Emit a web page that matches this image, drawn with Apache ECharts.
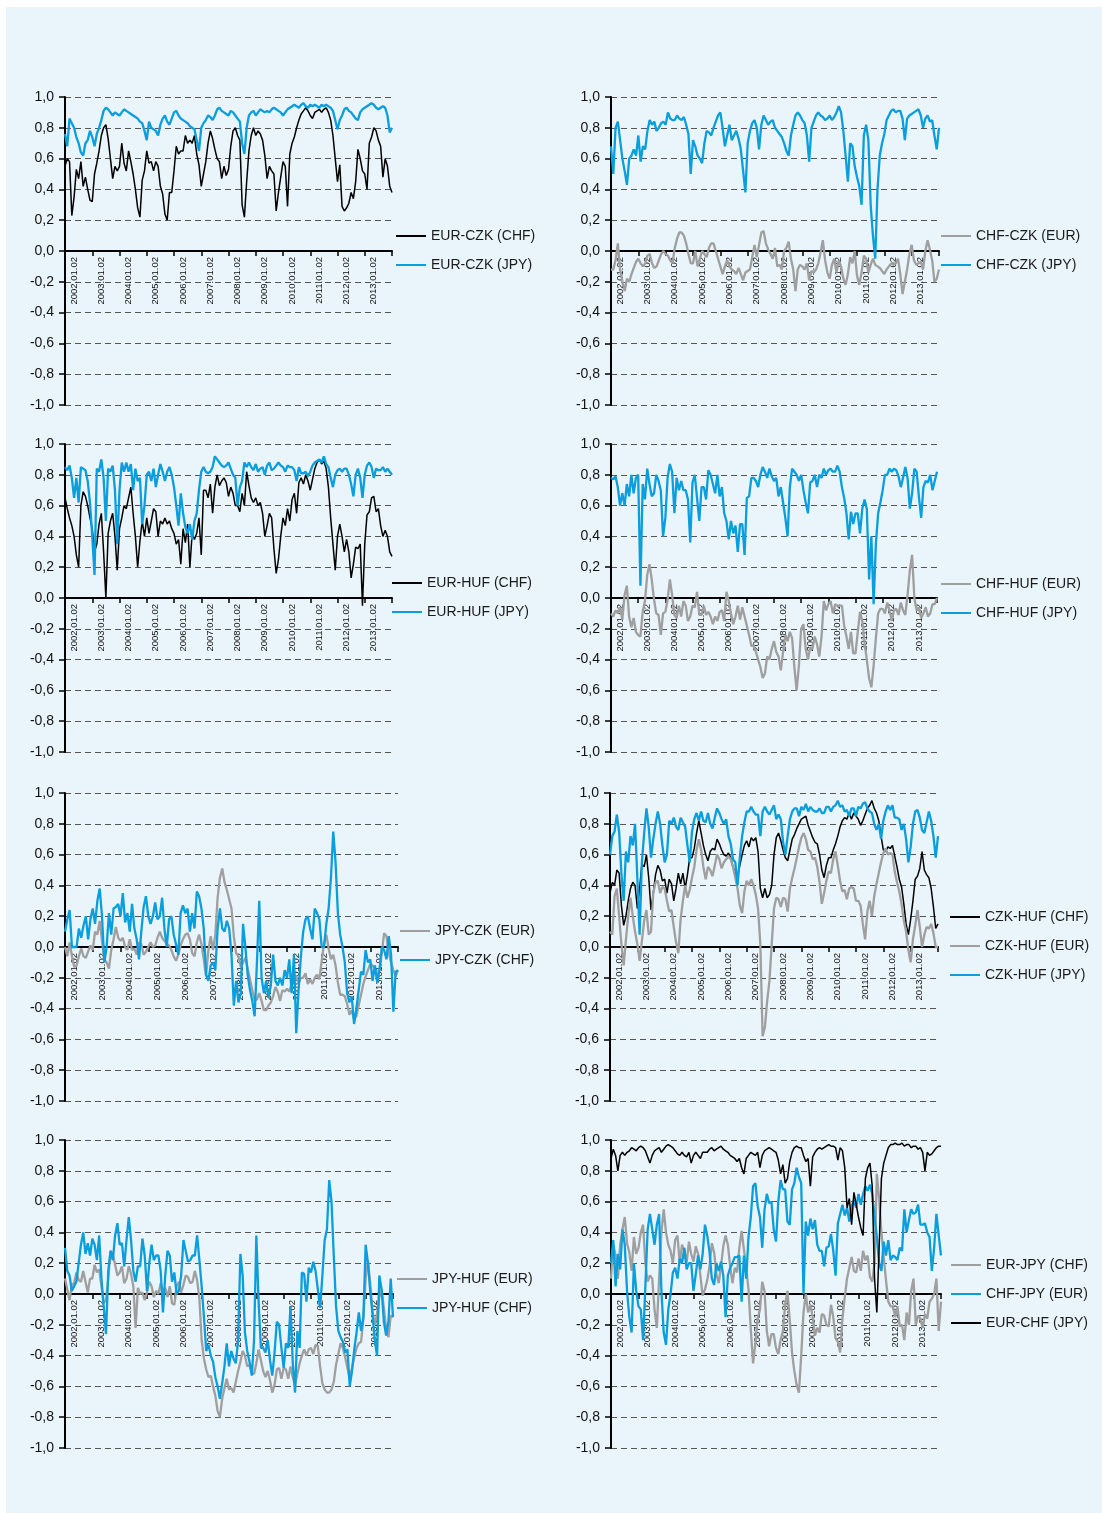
<!DOCTYPE html>
<html>
<head>
<meta charset="utf-8">
<script src="https://cdn.jsdelivr.net/npm/echarts@6/dist/echarts.min.js"></script>
<style>
  html, body { margin: 0; padding: 0; background: #ffffff; }
  #chart { position: absolute; left: 6px; top: 7px; width: 1096px; height: 1506px; }
</style>
</head>
<body>
<div id="chart"></div>
<script>
// Monthly observation dates, September 2001 to September 2013
const months = [];
for (let y = 2001, m = 9; y < 2013 || (y === 2013 && m <= 9); ) {
  months.push(y + '-' + String(m).padStart(2, '0'));
  m++; if (m > 12) { m = 1; y++; }
}

// Labels shown at each January on the date axis
const yearLabels = ['2002.01.02','2003.01.02','2004.01.02','2005.01.02','2006.01.02','2007.01.02',
  '2008.01.02','2009.01.02','2010.01.02','2011.01.02','2012.01.02','2013.01.02'];

// ---- Rolling correlations (monthly readings) ----
const eurCzkChf = [0.55,0.60,0.58,0.23,0.35,0.53,0.47,0.58,0.42,0.48,0.40,0.33,
  0.32,0.50,0.57,0.65,0.75,0.80,0.82,0.73,0.60,0.47,0.55,0.52,
  0.55,0.70,0.57,0.52,0.65,0.58,0.50,0.40,0.28,0.22,0.46,0.52,
  0.65,0.57,0.58,0.52,0.58,0.55,0.42,0.37,0.24,0.20,0.38,0.38,
  0.52,0.68,0.63,0.65,0.65,0.75,0.70,0.72,0.70,0.75,0.63,0.56,
  0.42,0.50,0.58,0.70,0.78,0.73,0.66,0.60,0.58,0.47,0.55,0.49,
  0.53,0.68,0.78,0.80,0.75,0.72,0.30,0.22,0.45,0.65,0.75,0.80,
  0.75,0.78,0.76,0.72,0.62,0.47,0.55,0.52,0.50,0.26,0.38,0.48,
  0.58,0.55,0.29,0.63,0.70,0.74,0.80,0.85,0.89,0.91,0.93,0.91,
  0.88,0.86,0.90,0.91,0.92,0.90,0.92,0.93,0.90,0.85,0.75,0.60,
  0.45,0.56,0.29,0.26,0.28,0.31,0.38,0.34,0.45,0.66,0.60,0.52,
  0.50,0.40,0.70,0.74,0.80,0.78,0.72,0.68,0.48,0.60,0.55,0.42,0.38];
const eurCzkJpy = [0.76,0.68,0.86,0.83,0.80,0.74,0.70,0.64,0.62,0.70,0.72,0.78,
  0.74,0.68,0.76,0.80,0.85,0.91,0.93,0.92,0.90,0.88,0.90,0.89,
  0.88,0.90,0.92,0.91,0.90,0.89,0.88,0.87,0.86,0.84,0.83,0.78,
  0.72,0.84,0.80,0.79,0.78,0.75,0.82,0.86,0.88,0.84,0.82,0.86,
  0.90,0.91,0.88,0.86,0.85,0.84,0.83,0.81,0.80,0.79,0.72,0.65,
  0.80,0.83,0.85,0.88,0.87,0.85,0.88,0.92,0.93,0.91,0.90,0.89,
  0.88,0.91,0.90,0.88,0.86,0.84,0.70,0.63,0.80,0.88,0.90,0.91,
  0.88,0.90,0.92,0.91,0.90,0.91,0.90,0.92,0.93,0.92,0.91,0.90,
  0.88,0.90,0.92,0.93,0.94,0.95,0.94,0.93,0.95,0.96,0.94,0.93,
  0.95,0.94,0.95,0.94,0.93,0.95,0.94,0.95,0.94,0.93,0.91,0.85,
  0.79,0.85,0.88,0.92,0.93,0.91,0.90,0.88,0.86,0.85,0.90,0.92,
  0.93,0.94,0.95,0.96,0.95,0.93,0.92,0.93,0.94,0.93,0.88,0.77,0.80];

const chfCzkEur = [-0.12,-0.12,-0.06,0.05,-0.12,-0.20,-0.26,-0.18,-0.20,-0.15,-0.11,-0.07,
  -0.05,-0.08,-0.10,-0.08,-0.03,-0.02,-0.08,-0.11,-0.10,-0.06,-0.02,0.00,
  -0.02,-0.03,-0.06,-0.08,0.02,0.08,0.12,0.12,0.10,0.05,-0.02,-0.08,
  -0.08,0.00,-0.10,-0.05,0.00,-0.02,-0.04,0.02,0.05,0.05,0.00,-0.05,
  -0.10,-0.15,-0.10,-0.06,-0.10,-0.12,-0.13,-0.15,-0.11,-0.15,-0.19,-0.14,
  -0.13,-0.12,-0.04,0.04,-0.04,0.04,0.12,0.13,0.05,0.01,-0.02,-0.05,
  0.02,-0.10,-0.09,-0.12,0.00,0.02,0.06,-0.05,-0.12,-0.26,-0.12,-0.09,
  -0.10,-0.12,-0.08,-0.19,-0.13,-0.14,-0.12,-0.08,-0.01,0.07,-0.06,-0.14,
  -0.18,-0.09,-0.05,-0.14,-0.06,-0.10,-0.18,-0.22,-0.15,-0.04,-0.08,0.00,
  -0.16,-0.22,-0.14,-0.03,-0.05,-0.14,-0.09,-0.05,-0.09,-0.10,-0.11,-0.13,
  -0.15,-0.12,-0.10,-0.08,-0.09,-0.08,-0.05,-0.15,-0.28,-0.20,-0.12,-0.02,
  0.04,-0.06,-0.09,-0.08,-0.07,-0.12,0.00,0.07,0.01,-0.06,-0.20,-0.18,-0.12];
const chfCzkJpy = [0.68,0.50,0.80,0.84,0.72,0.60,0.52,0.43,0.60,0.62,0.66,0.62,
  0.75,0.58,0.68,0.66,0.78,0.85,0.82,0.84,0.78,0.80,0.83,0.84,
  0.82,0.90,0.86,0.85,0.85,0.88,0.86,0.85,0.87,0.82,0.76,0.50,
  0.72,0.68,0.62,0.60,0.57,0.70,0.78,0.77,0.75,0.80,0.84,0.88,
  0.90,0.80,0.68,0.75,0.82,0.72,0.75,0.78,0.73,0.66,0.52,0.38,
  0.70,0.78,0.83,0.85,0.80,0.66,0.82,0.88,0.85,0.82,0.84,0.85,
  0.80,0.78,0.76,0.74,0.70,0.65,0.62,0.75,0.82,0.88,0.90,0.88,
  0.85,0.83,0.75,0.58,0.80,0.84,0.88,0.90,0.88,0.87,0.85,0.86,
  0.88,0.85,0.87,0.90,0.94,0.90,0.78,0.62,0.45,0.70,0.68,0.55,
  0.48,0.42,0.30,0.75,0.82,0.72,0.30,0.10,-0.05,0.40,0.62,0.70,
  0.76,0.85,0.88,0.91,0.92,0.90,0.91,0.91,0.86,0.72,0.86,0.88,
  0.89,0.90,0.91,0.92,0.88,0.80,0.86,0.88,0.84,0.85,0.75,0.66,0.80];

const eurHufChf = [0.65,0.58,0.52,0.47,0.40,0.28,0.20,0.60,0.69,0.66,0.60,0.52,
  0.45,0.30,0.35,0.48,0.55,0.30,0.00,0.42,0.50,0.55,0.40,0.18,
  0.45,0.52,0.60,0.58,0.65,0.72,0.55,0.40,0.20,0.37,0.50,0.40,
  0.52,0.42,0.50,0.58,0.56,0.40,0.50,0.48,0.52,0.48,0.50,0.45,
  0.42,0.35,0.38,0.22,0.45,0.36,0.48,0.20,0.42,0.38,0.42,0.52,
  0.28,0.70,0.70,0.65,0.74,0.55,0.72,0.80,0.73,0.76,0.78,0.75,
  0.66,0.72,0.68,0.60,0.60,0.56,0.68,0.60,0.82,0.73,0.65,0.62,
  0.65,0.60,0.62,0.55,0.40,0.47,0.55,0.52,0.32,0.16,0.25,0.40,
  0.52,0.47,0.58,0.50,0.64,0.68,0.55,0.75,0.78,0.74,0.80,0.76,
  0.70,0.77,0.84,0.88,0.90,0.87,0.89,0.84,0.72,0.52,0.35,0.18,
  0.40,0.48,0.40,0.30,0.38,0.30,0.13,0.22,0.33,0.32,0.35,-0.05,
  0.35,0.54,0.56,0.65,0.66,0.56,0.58,0.47,0.40,0.44,0.40,0.30,0.27];
const eurHufJpy = [0.85,0.83,0.86,0.78,0.65,0.78,0.62,0.85,0.84,0.83,0.76,0.62,
  0.40,0.15,0.84,0.82,0.90,0.78,0.50,0.84,0.82,0.86,0.70,0.35,
  0.70,0.88,0.82,0.88,0.82,0.87,0.70,0.84,0.76,0.78,0.48,0.60,
  0.80,0.82,0.76,0.84,0.72,0.80,0.87,0.82,0.76,0.82,0.85,0.80,
  0.72,0.60,0.47,0.68,0.55,0.46,0.42,0.48,0.38,0.50,0.55,0.70,
  0.82,0.85,0.82,0.81,0.82,0.85,0.92,0.90,0.88,0.86,0.85,0.86,
  0.88,0.84,0.80,0.78,0.60,0.72,0.76,0.88,0.85,0.88,0.85,0.83,
  0.87,0.82,0.84,0.85,0.80,0.86,0.88,0.83,0.84,0.86,0.88,0.86,
  0.85,0.82,0.86,0.85,0.85,0.83,0.76,0.85,0.81,0.81,0.82,0.79,
  0.82,0.86,0.88,0.89,0.90,0.88,0.92,0.87,0.85,0.78,0.72,0.80,
  0.83,0.84,0.82,0.84,0.84,0.80,0.74,0.66,0.80,0.84,0.78,0.65,
  0.80,0.86,0.88,0.85,0.78,0.84,0.83,0.83,0.85,0.82,0.84,0.82,0.80];

const chfHufEur = [-0.10,-0.12,-0.08,-0.10,-0.06,-0.14,0.02,0.08,-0.12,-0.19,-0.13,-0.22,
  -0.24,-0.25,-0.09,-0.02,0.15,0.22,0.12,-0.01,-0.10,-0.11,-0.24,-0.10,
  -0.09,-0.01,0.12,0.02,-0.11,-0.13,-0.05,-0.12,-0.02,-0.05,-0.15,-0.12,
  -0.05,-0.06,0.04,-0.11,-0.11,-0.05,-0.11,-0.09,-0.12,-0.17,-0.12,-0.15,
  -0.09,-0.08,-0.15,0.04,-0.02,-0.10,-0.17,-0.12,-0.05,-0.14,-0.06,-0.12,
  -0.18,-0.24,-0.31,-0.31,-0.35,-0.40,-0.45,-0.52,-0.49,-0.38,-0.40,-0.33,
  -0.28,-0.35,-0.38,-0.47,-0.35,-0.24,-0.28,-0.22,-0.26,-0.45,-0.60,-0.44,
  -0.20,-0.17,-0.33,-0.40,-0.32,-0.33,-0.25,-0.30,-0.38,-0.25,-0.02,-0.08,
  -0.04,-0.02,-0.10,-0.04,-0.05,-0.05,-0.05,-0.18,-0.25,-0.33,-0.22,-0.36,
  -0.36,-0.22,-0.09,-0.15,-0.29,-0.40,-0.52,-0.58,-0.44,-0.26,-0.10,-0.07,
  -0.07,-0.10,-0.03,-0.08,-0.15,-0.08,-0.07,-0.11,-0.03,-0.08,-0.11,0.02,
  0.18,0.28,0.00,-0.08,-0.06,-0.13,-0.10,-0.06,-0.12,-0.10,-0.04,-0.04,0.00];
const chfHufJpy = [0.78,0.77,0.79,0.72,0.60,0.68,0.60,0.74,0.66,0.80,0.68,0.78,
  0.80,0.08,0.74,0.64,0.84,0.74,0.66,0.68,0.80,0.76,0.70,0.40,
  0.52,0.78,0.87,0.82,0.55,0.78,0.70,0.76,0.70,0.70,0.64,0.36,
  0.75,0.80,0.65,0.50,0.72,0.72,0.64,0.83,0.80,0.74,0.68,0.80,
  0.66,0.72,0.55,0.50,0.38,0.50,0.42,0.47,0.30,0.48,0.48,0.28,
  0.65,0.66,0.78,0.78,0.76,0.72,0.80,0.85,0.82,0.78,0.84,0.79,
  0.76,0.78,0.66,0.72,0.62,0.52,0.40,0.72,0.84,0.82,0.80,0.76,
  0.80,0.70,0.62,0.55,0.75,0.76,0.80,0.72,0.80,0.78,0.84,0.80,
  0.83,0.84,0.82,0.82,0.86,0.82,0.72,0.65,0.55,0.38,0.56,0.48,
  0.55,0.55,0.42,0.58,0.64,0.58,0.12,0.40,-0.04,0.35,0.55,0.62,
  0.70,0.80,0.80,0.84,0.82,0.84,0.83,0.79,0.72,0.78,0.85,0.78,
  0.58,0.68,0.84,0.82,0.66,0.52,0.72,0.76,0.75,0.80,0.70,0.76,0.82];

const jpyCzkEur = [0.00,-0.06,0.03,-0.06,-0.13,-0.12,-0.06,-0.01,-0.06,-0.07,-0.03,0.01,
  -0.02,0.10,0.08,0.17,0.04,-0.08,-0.10,-0.14,-0.02,0.05,0.13,0.06,
  0.04,0.06,0.00,-0.02,0.05,-0.02,-0.01,-0.05,0.03,0.02,-0.05,-0.03,
  0.00,0.03,0.00,0.01,0.06,0.10,0.06,0.04,0.02,0.01,-0.02,-0.06,
  -0.09,-0.05,0.01,0.05,0.08,0.09,0.05,-0.04,-0.06,0.03,0.08,0.02,
  -0.08,-0.19,-0.02,0.07,-0.02,0.08,0.32,0.45,0.51,0.42,0.37,0.31,
  0.25,0.07,-0.04,-0.06,-0.13,-0.10,-0.07,-0.14,-0.21,-0.28,-0.35,-0.34,
  -0.30,-0.35,-0.41,-0.41,-0.38,-0.36,-0.32,-0.26,-0.29,-0.35,-0.28,-0.29,
  -0.27,-0.29,-0.24,-0.18,-0.19,-0.24,-0.20,-0.20,-0.17,-0.24,-0.21,-0.24,
  -0.20,-0.18,-0.21,-0.09,0.02,0.08,-0.01,-0.08,-0.05,-0.12,-0.23,-0.31,
  -0.31,-0.32,-0.37,-0.44,-0.41,-0.47,-0.45,-0.38,-0.31,-0.24,-0.19,-0.15,
  -0.11,-0.12,-0.14,-0.18,-0.15,-0.04,0.09,0.07,-0.04,-0.10,-0.15,-0.19,-0.15];
const jpyCzkChf = [0.10,0.18,0.24,0.00,0.00,0.00,0.12,0.06,0.14,0.20,0.05,0.18,
  0.25,0.15,0.30,0.38,0.20,-0.10,0.00,0.22,0.08,0.25,0.26,0.28,
  0.20,0.35,0.16,0.22,0.10,0.28,0.12,0.05,-0.08,0.10,0.26,0.33,
  0.20,0.15,0.20,0.29,0.18,0.20,0.32,0.12,0.00,0.18,0.20,0.08,
  0.02,-0.05,0.22,0.27,0.22,0.25,0.10,0.22,0.12,0.36,0.33,0.25,
  0.12,-0.18,-0.22,-0.12,-0.10,-0.15,0.12,0.25,0.12,0.10,0.17,0.12,
  -0.05,-0.38,-0.22,-0.36,-0.30,0.15,0.00,-0.18,-0.28,-0.35,-0.45,-0.10,
  0.30,-0.20,-0.30,-0.22,-0.33,-0.25,-0.05,-0.22,-0.25,-0.20,-0.25,-0.15,
  -0.20,-0.08,-0.30,-0.05,-0.56,-0.28,-0.06,0.10,0.18,0.20,0.12,0.05,
  0.25,0.22,0.18,0.00,0.00,0.15,0.25,0.45,0.75,0.55,0.22,0.08,
  0.00,-0.10,-0.30,-0.36,-0.32,-0.50,-0.40,-0.28,-0.16,-0.18,-0.02,-0.10,
  -0.08,-0.22,-0.12,-0.23,-0.15,0.00,-0.02,-0.08,0.07,-0.05,-0.42,-0.16,-0.15];

const czkHufChf = [0.35,0.42,0.40,0.50,0.48,0.27,0.14,0.20,0.30,0.38,0.42,0.40,
  0.25,0.38,0.54,0.52,0.60,0.45,0.24,0.35,0.47,0.53,0.50,0.43,
  0.44,0.35,0.44,0.41,0.30,0.38,0.48,0.41,0.48,0.38,0.47,0.58,
  0.58,0.64,0.74,0.82,0.74,0.66,0.60,0.56,0.62,0.64,0.63,0.70,
  0.67,0.63,0.60,0.59,0.61,0.58,0.52,0.48,0.46,0.53,0.60,0.66,
  0.69,0.65,0.71,0.69,0.71,0.62,0.38,0.32,0.38,0.32,0.34,0.40,
  0.60,0.71,0.74,0.69,0.63,0.58,0.56,0.63,0.70,0.73,0.77,0.80,
  0.83,0.84,0.85,0.79,0.75,0.71,0.68,0.67,0.60,0.50,0.45,0.53,
  0.58,0.58,0.63,0.67,0.72,0.78,0.82,0.84,0.83,0.87,0.83,0.87,
  0.85,0.83,0.79,0.82,0.86,0.90,0.92,0.95,0.90,0.87,0.82,0.72,
  0.63,0.62,0.65,0.64,0.66,0.59,0.52,0.44,0.39,0.28,0.15,0.08,
  0.18,0.30,0.44,0.46,0.51,0.62,0.50,0.47,0.45,0.38,0.26,0.12,0.15];
const czkHufEur = [0.10,0.08,0.33,0.38,0.20,0.02,-0.12,0.05,0.20,0.32,0.20,0.10,
  0.02,-0.09,0.04,0.17,0.24,0.08,0.10,0.35,0.42,0.43,0.35,0.39,
  0.38,0.30,0.23,0.24,0.13,0.03,-0.04,0.18,0.30,0.40,0.32,0.37,
  0.45,0.52,0.63,0.70,0.63,0.52,0.44,0.52,0.50,0.46,0.53,0.60,
  0.57,0.51,0.55,0.57,0.59,0.57,0.52,0.45,0.38,0.27,0.22,0.36,
  0.43,0.40,0.44,0.40,0.34,0.25,0.02,-0.58,-0.52,-0.35,-0.22,0.02,
  0.25,0.32,0.31,0.26,0.32,0.31,0.23,0.38,0.45,0.51,0.58,0.65,
  0.71,0.74,0.70,0.63,0.62,0.57,0.58,0.52,0.42,0.28,0.35,0.43,
  0.49,0.48,0.57,0.62,0.53,0.43,0.36,0.37,0.31,0.38,0.39,0.38,
  0.30,0.30,0.27,0.15,0.05,0.23,0.30,0.20,0.33,0.41,0.48,0.55,
  0.61,0.64,0.60,0.61,0.60,0.49,0.42,0.36,0.28,0.17,0.10,-0.02,
  -0.10,0.05,0.14,0.24,0.13,0.00,0.08,0.13,0.12,0.15,0.09,0.00,0.00];
const czkHufJpy = [0.60,0.72,0.75,0.86,0.75,0.48,0.30,0.62,0.55,0.72,0.66,0.80,
  0.45,0.08,0.55,0.74,0.90,0.78,0.58,0.70,0.80,0.88,0.80,0.66,
  0.55,0.60,0.82,0.80,0.84,0.78,0.76,0.84,0.81,0.78,0.66,0.55,
  0.75,0.83,0.87,0.82,0.88,0.82,0.81,0.87,0.80,0.77,0.84,0.90,
  0.87,0.83,0.80,0.83,0.72,0.67,0.57,0.55,0.40,0.58,0.72,0.81,
  0.88,0.88,0.91,0.88,0.86,0.86,0.72,0.88,0.91,0.88,0.86,0.89,
  0.92,0.83,0.86,0.83,0.68,0.60,0.72,0.83,0.88,0.90,0.90,0.85,
  0.91,0.89,0.93,0.88,0.91,0.89,0.88,0.88,0.90,0.87,0.87,0.91,
  0.91,0.88,0.91,0.92,0.95,0.91,0.92,0.88,0.89,0.85,0.90,0.90,
  0.85,0.91,0.90,0.93,0.94,0.90,0.88,0.87,0.80,0.76,0.80,0.70,
  0.82,0.88,0.92,0.89,0.92,0.84,0.84,0.83,0.76,0.80,0.70,0.55,
  0.65,0.80,0.88,0.89,0.84,0.76,0.74,0.81,0.88,0.82,0.72,0.58,0.72];

const jpyHufEur = [0.10,0.03,-0.04,0.06,0.07,0.14,0.09,0.08,0.15,0.08,0.01,0.10,
  0.10,0.19,0.14,0.16,0.05,-0.06,-0.04,0.10,0.28,0.26,0.19,0.12,
  0.14,0.18,0.07,0.10,0.18,0.13,0.05,-0.22,0.04,0.00,0.01,-0.04,
  0.01,0.08,0.05,-0.02,0.02,0.00,0.07,0.02,0.04,-0.02,0.05,-0.06,
  -0.07,0.05,0.08,0.01,0.06,0.12,0.11,0.07,0.08,0.15,0.09,-0.03,
  -0.30,-0.42,-0.49,-0.54,-0.53,-0.60,-0.66,-0.76,-0.80,-0.68,-0.61,-0.55,
  -0.62,-0.61,-0.64,-0.57,-0.50,-0.44,-0.37,-0.40,-0.47,-0.46,-0.51,-0.52,
  -0.45,-0.36,-0.43,-0.50,-0.54,-0.50,-0.56,-0.64,-0.59,-0.49,-0.48,-0.55,
  -0.48,-0.49,-0.55,-0.47,-0.54,-0.59,-0.52,-0.45,-0.40,-0.36,-0.40,-0.36,
  -0.35,-0.39,-0.33,-0.34,-0.47,-0.58,-0.62,-0.64,-0.64,-0.62,-0.57,-0.46,
  -0.39,-0.32,-0.35,-0.41,-0.48,-0.55,-0.48,-0.41,-0.35,-0.32,-0.31,-0.16,
  0.10,0.22,0.07,-0.11,-0.20,-0.13,-0.02,0.03,-0.09,-0.23,-0.28,-0.14,-0.15];
const jpyHufChf = [0.30,0.15,0.12,0.02,0.05,0.08,0.20,0.32,0.40,0.26,0.33,0.25,
  0.36,0.32,0.22,0.38,0.10,-0.08,-0.26,0.15,0.28,0.22,0.38,0.46,
  0.32,0.33,0.18,0.35,0.50,0.35,0.15,0.08,0.18,0.18,0.36,0.25,
  0.02,0.20,0.32,0.22,0.25,0.25,0.15,-0.12,0.12,0.28,0.25,0.08,
  0.14,0.00,0.02,0.12,0.35,0.28,0.21,0.22,0.25,0.25,0.38,0.22,
  0.05,-0.15,-0.37,-0.33,-0.40,-0.44,-0.54,-0.60,-0.68,-0.58,-0.47,-0.32,
  -0.47,-0.37,-0.42,-0.45,-0.30,0.26,0.12,-0.25,-0.37,-0.44,-0.53,-0.30,
  0.38,-0.05,-0.35,-0.35,-0.38,-0.30,-0.43,-0.53,-0.38,-0.18,-0.20,-0.35,
  -0.48,-0.32,-0.35,-0.08,-0.45,-0.64,-0.24,-0.35,0.14,0.13,-0.05,0.17,
  0.14,0.21,0.15,0.03,-0.09,0.12,0.35,0.42,0.74,0.60,0.25,-0.08,
  -0.24,-0.28,-0.31,-0.38,-0.36,-0.60,-0.50,-0.36,-0.25,-0.12,-0.24,-0.15,
  0.32,0.20,0.02,-0.13,-0.30,-0.40,0.12,0.03,-0.18,-0.27,-0.18,0.10,-0.15];

const eurJpyChf = [0.10,0.32,0.25,0.10,0.32,0.42,0.50,0.33,0.27,0.15,0.37,0.26,
  0.30,0.40,0.45,0.20,0.08,0.12,0.10,-0.10,-0.22,0.10,0.40,0.55,
  0.40,0.32,0.28,0.20,0.35,0.38,0.20,0.32,0.28,0.20,0.34,0.26,
  0.21,0.31,0.26,0.12,-0.01,0.03,0.09,0.18,0.33,0.27,0.13,0.07,
  0.18,0.31,0.38,0.32,0.18,0.07,0.17,0.14,0.30,0.41,0.29,0.17,
  0.03,-0.23,-0.45,-0.32,-0.16,-0.10,0.08,0.02,-0.24,-0.34,-0.26,-0.26,
  -0.35,-0.39,-0.30,-0.24,-0.07,0.02,-0.17,-0.38,-0.50,-0.59,-0.64,-0.40,
  -0.12,0.00,-0.12,-0.07,-0.15,-0.27,-0.22,-0.25,-0.13,-0.14,-0.20,-0.21,
  -0.07,-0.15,-0.29,-0.31,-0.38,-0.16,-0.02,0.10,0.17,0.24,0.15,0.14,
  0.23,0.15,0.28,0.22,0.25,0.11,0.08,0.20,0.78,0.62,0.40,0.24,
  0.09,-0.05,-0.08,-0.08,-0.15,-0.08,-0.21,-0.20,-0.30,-0.12,-0.20,0.02,
  0.10,-0.20,-0.14,-0.16,-0.22,-0.13,-0.16,-0.05,-0.03,0.00,0.10,-0.24,-0.05];
const chfJpyEur = [0.20,0.35,0.05,0.26,0.16,0.42,0.32,0.02,-0.15,-0.25,0.20,0.02,
  -0.08,-0.10,-0.30,0.05,0.42,0.52,0.42,0.32,0.45,0.52,0.02,-0.25,
  -0.33,-0.10,0.00,0.14,0.17,0.10,0.23,0.20,0.30,0.16,0.20,0.20,
  0.02,0.13,0.25,0.16,0.26,0.45,0.38,0.27,0.10,0.06,0.20,0.15,
  0.21,0.12,-0.15,0.12,0.17,0.20,0.24,0.24,0.25,-0.05,0.25,0.10,
  0.37,0.50,0.70,0.72,0.57,0.50,0.30,0.55,0.65,0.59,0.60,0.42,
  0.34,0.60,0.74,0.68,0.68,0.47,0.45,0.68,0.72,0.82,0.76,0.72,
  0.00,0.47,0.38,0.49,0.42,0.48,0.32,0.28,0.28,0.18,0.30,0.31,
  0.39,0.28,0.12,0.46,0.52,0.58,0.51,0.56,0.47,0.57,0.61,0.56,
  0.65,0.58,0.65,0.70,0.67,0.71,0.65,0.50,0.37,0.20,0.15,0.34,
  0.25,0.35,0.22,0.25,0.24,0.22,0.30,0.28,0.55,0.40,0.48,0.55,
  0.52,0.53,0.58,0.45,0.45,0.46,0.40,0.37,0.15,0.30,0.52,0.38,0.25];
const eurChfJpy = [0.88,0.94,0.90,0.80,0.90,0.92,0.90,0.92,0.93,0.95,0.94,0.93,
  0.95,0.96,0.95,0.93,0.89,0.85,0.90,0.93,0.94,0.95,0.92,0.94,
  0.96,0.97,0.96,0.95,0.93,0.91,0.90,0.92,0.90,0.89,0.92,0.85,
  0.90,0.92,0.90,0.88,0.92,0.92,0.92,0.94,0.95,0.93,0.94,0.95,
  0.96,0.94,0.93,0.92,0.90,0.89,0.88,0.86,0.88,0.82,0.78,0.88,
  0.90,0.92,0.91,0.90,0.92,0.82,0.90,0.93,0.94,0.95,0.94,0.93,
  0.92,0.87,0.78,0.84,0.72,0.75,0.86,0.92,0.95,0.96,0.95,0.95,
  0.90,0.86,0.88,0.70,0.89,0.92,0.94,0.95,0.94,0.95,0.96,0.97,
  0.96,0.96,0.95,0.87,0.95,0.93,0.82,0.56,0.62,0.45,0.66,0.58,
  0.50,0.43,0.38,0.75,0.82,0.85,0.70,0.10,-0.12,0.30,0.75,0.85,
  0.90,0.95,0.97,0.97,0.98,0.97,0.97,0.98,0.96,0.97,0.97,0.95,
  0.96,0.96,0.94,0.95,0.92,0.80,0.92,0.90,0.91,0.93,0.95,0.96,0.96];

// ---- Styling ----
const BLUE = '#0a9edc';
const GRAY = '#9f9f9f';
const BLACK = '#000000';
const FONT = '"Liberation Sans", Arial, sans-serif';
const PLOT_H = 308;
const W_THICK = 2.3;   // blue and grey series
const W_THIN = 1.5;    // black series

// Panel layout inside the chart container (pixels)
const panels = [
  { grid: { left: 59,  top: 90,   width: 327 }, legend: { left: 390, top: 221 },
    series: [ { name: 'EUR-CZK (CHF)', data: eurCzkChf, color: BLACK, width: W_THIN },
              { name: 'EUR-CZK (JPY)', data: eurCzkJpy, color: BLUE,  width: W_THICK } ] },
  { grid: { left: 605, top: 90,   width: 328 }, legend: { left: 935, top: 221 },
    series: [ { name: 'CHF-CZK (EUR)', data: chfCzkEur, color: GRAY,  width: W_THICK },
              { name: 'CHF-CZK (JPY)', data: chfCzkJpy, color: BLUE,  width: W_THICK } ] },
  { grid: { left: 59,  top: 437,  width: 327 }, legend: { left: 386, top: 568 },
    series: [ { name: 'EUR-HUF (CHF)', data: eurHufChf, color: BLACK, width: W_THIN },
              { name: 'EUR-HUF (JPY)', data: eurHufJpy, color: BLUE,  width: W_THICK } ] },
  { grid: { left: 605, top: 437,  width: 326 }, legend: { left: 935, top: 569 },
    series: [ { name: 'CHF-HUF (EUR)', data: chfHufEur, color: GRAY,  width: W_THICK },
              { name: 'CHF-HUF (JPY)', data: chfHufJpy, color: BLUE,  width: W_THICK } ] },
  { grid: { left: 59,  top: 786,  width: 333 }, legend: { left: 394, top: 916 },
    series: [ { name: 'JPY-CZK (EUR)', data: jpyCzkEur, color: GRAY,  width: W_THICK },
              { name: 'JPY-CZK (CHF)', data: jpyCzkChf, color: BLUE,  width: W_THICK } ] },
  { grid: { left: 604, top: 786,  width: 328 }, legend: { left: 944, top: 902 },
    series: [ { name: 'CZK-HUF (CHF)', data: czkHufChf, color: BLACK, width: W_THIN },
              { name: 'CZK-HUF (EUR)', data: czkHufEur, color: GRAY,  width: W_THICK },
              { name: 'CZK-HUF (JPY)', data: czkHufJpy, color: BLUE,  width: W_THICK } ] },
  { grid: { left: 59,  top: 1133, width: 328 }, legend: { left: 391, top: 1264 },
    series: [ { name: 'JPY-HUF (EUR)', data: jpyHufEur, color: GRAY,  width: W_THICK },
              { name: 'JPY-HUF (CHF)', data: jpyHufChf, color: BLUE,  width: W_THICK } ] },
  { grid: { left: 605, top: 1133, width: 330 }, legend: { left: 945, top: 1250 },
    series: [ { name: 'EUR-JPY (CHF)', data: eurJpyChf, color: GRAY,  width: W_THICK },
              { name: 'CHF-JPY (EUR)', data: chfJpyEur, color: BLUE,  width: W_THICK },
              { name: 'EUR-CHF (JPY)', data: eurChfJpy, color: BLACK, width: W_THIN } ] }
];

const fmtY = v => (Math.abs(v) < 1e-9 ? '0,0' : v.toFixed(1).replace('.', ','));

const option = {
  backgroundColor: '#eaf4fb',
  animation: false,
  textStyle: { fontFamily: FONT },
  grid: [], xAxis: [], yAxis: [], legend: [], series: []
};

panels.forEach((p, i) => {
  option.grid.push(Object.assign({ containLabel: false, height: PLOT_H }, p.grid));
  // date axis drawn along the zero line (middle of the -1..1 range)
  option.xAxis.push({
    gridIndex: i, type: 'category', data: months, boundaryGap: false,
    position: 'bottom', offset: -PLOT_H / 2,
    axisLine: { onZero: false, lineStyle: { color: '#000', width: 2 } },
    axisTick: { show: true, interval: (idx, val) => val.endsWith('-09'), length: 5,
                lineStyle: { color: '#000', width: 1.5 } },
    axisLabel: { interval: (idx, val) => val.endsWith('-01'), rotate: 90, margin: 6,
                 fontSize: 9.5, color: '#111', fontFamily: FONT,
                 formatter: v => yearLabels[Number(v.slice(0, 4)) - 2002] },
    splitLine: { show: false }
  });
  option.yAxis.push({
    gridIndex: i, type: 'value', min: -1, max: 1, interval: 0.2,
    axisLine: { show: true, lineStyle: { color: '#000', width: 2 } },
    axisTick: { show: true, length: 6, lineStyle: { color: '#000', width: 1.5 } },
    axisLabel: { fontSize: 14, color: '#111', margin: 11, fontFamily: FONT, formatter: fmtY },
    splitLine: { show: true, lineStyle: { color: '#555', width: 1, type: [6, 4] } }
  });
  option.legend.push({
    left: p.legend.left, top: p.legend.top, orient: 'vertical', padding: 0,
    icon: 'rect', itemWidth: 30, itemHeight: 2, itemGap: 13, selectedMode: false,
    data: p.series.map(s => s.name),
    textStyle: { fontSize: 14, lineHeight: 16, color: '#1a1a1a', fontFamily: FONT }
  });
  p.series.forEach((s, k) => {
    option.series.push({
      type: 'line', name: s.name, xAxisIndex: i, yAxisIndex: i,
      data: s.data, symbol: 'none', showSymbol: false, z: 2 + k,
      lineStyle: { color: s.color, width: s.width },
      itemStyle: { color: s.color },
      emphasis: { disabled: true }
    });
  });
});

const chart = echarts.init(document.getElementById('chart'), null, { renderer: 'canvas' });
chart.setOption(option);
</script>
</body>
</html>
